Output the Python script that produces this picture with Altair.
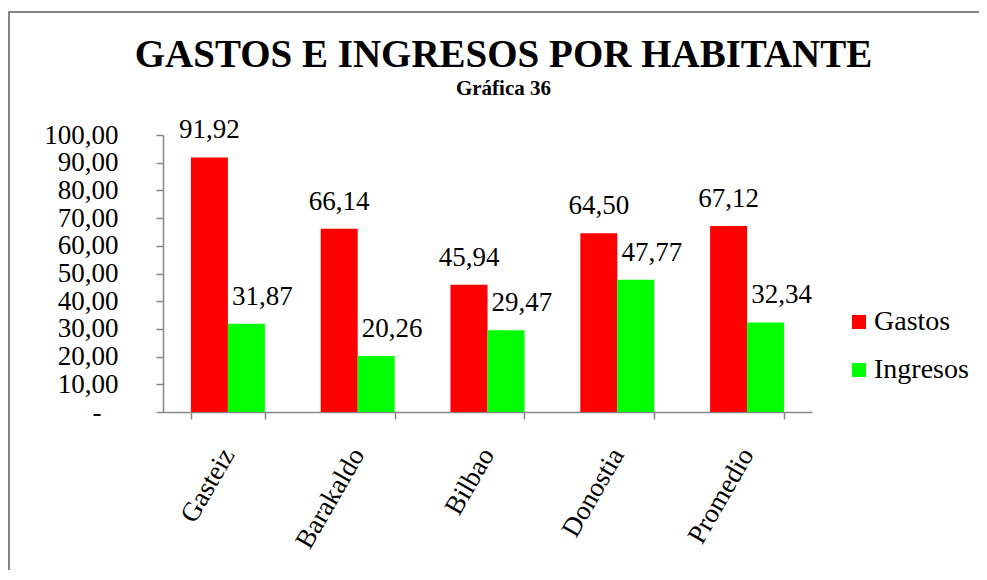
import altair as alt
import pandas as pd

cities = ["Gasteiz", "Barakaldo", "Bilbao", "Donostia", "Promedio"]
series = ["Gastos", "Ingresos"]
gastos = [91.92, 66.14, 45.94, 64.50, 67.12]
ingresos = [31.87, 20.26, 29.47, 47.77, 32.34]
y_ticks = [0, 10, 20, 30, 40, 50, 60, 70, 80, 90, 100]
colors = ["#FF0000", "#00FF00"]
title_text = "GASTOS E INGRESOS POR HABITANTE"
subtitle_text = "Gráfica 36"

rows = []
for c, g, i in zip(cities, gastos, ingresos):
    rows.append({"ciudad": c, "serie": series[0], "valor": g})
    rows.append({"ciudad": c, "serie": series[1], "valor": i})
df = pd.DataFrame(rows)

FONT = "Liberation Serif"
GREY = "#868686"

x_enc = alt.X(
    "ciudad:N", sort=cities, title=None,
    scale=alt.Scale(paddingInner=0.43, paddingOuter=0.215),
    axis=alt.Axis(labelAngle=-60, labelAlign="right", labelBaseline="middle",
                  labelPadding=31, tickBand="extent", tickSize=7,
                  domainColor=GREY, tickColor=GREY, domainWidth=1.5, tickWidth=1.5,
                  labelFont=FONT, labelFontSize=27, labelColor="black", grid=False),
)
xo_enc = alt.XOffset("serie:N", sort=series)
y_enc = alt.Y(
    "valor:Q", title=None,
    scale=alt.Scale(domain=[0, 100], nice=False),
    axis=alt.Axis(values=y_ticks,
                  labelExpr="datum.value == 0 ? '-' : replace(format(datum.value, '.2f'), '.', ',')",
                  labelPadding={"condition": {"test": "datum.value == 0", "value": 55}, "value": 38},
                  tickSize=7, domainColor=GREY, tickColor=GREY,
                  domainWidth=1.5, tickWidth=1.5,
                  labelFont=FONT, labelFontSize=27, labelColor="black", grid=False),
)

bars = alt.Chart(df).mark_bar().encode(
    x=x_enc, xOffset=xo_enc, y=y_enc,
    color=alt.Color("serie:N", sort=series,
                    scale=alt.Scale(domain=series, range=colors),
                    legend=alt.Legend(title=None, orient="none", legendX=682, legendY=173,
                                      symbolType="square", symbolSize=196,
                                      symbolStrokeWidth=0,
                                      labelFont=FONT, labelFontSize=28, labelColor="black",
                                      rowPadding=20, labelOffset=1, padding=0)),
)

lab_expr = "replace(format(datum.valor, '.2f'), '.', ',')"
labels_g = alt.Chart(df).transform_filter(alt.datum.serie == series[0]).transform_calculate(
    lab=lab_expr
).mark_text(baseline="alphabetic", dy=-19, font=FONT, fontSize=27, color="black").encode(
    x=x_enc, xOffset=xo_enc, y=y_enc, text="lab:N"
)
labels_i = alt.Chart(df).transform_filter(alt.datum.serie == series[1]).transform_calculate(
    lab=lab_expr
).mark_text(baseline="alphabetic", dy=-19, dx=16, font=FONT, fontSize=27, color="black").encode(
    x=x_enc, xOffset=xo_enc, y=y_enc, text="lab:N"
)

frame = alt.Chart(alt.Data(values=[{"f": 1}])).mark_rect(
    filled=False, stroke=GREY, strokeWidth=2
).encode(
    x=alt.value(-154), x2=alt.value(840), y=alt.value(-123), y2=alt.value(600)
)

chart = alt.layer(frame, bars, labels_g, labels_i).properties(
    width=649, height=277,
    title=alt.TitleParams(text=title_text, subtitle=subtitle_text,
                          font=FONT, fontSize=39, fontWeight="bold", color="black",
                          subtitleFont=FONT, subtitleFontSize=21, subtitleFontWeight="bold",
                          subtitleColor="black", subtitlePadding=3,
                          anchor="middle", frame="group", dx=16, offset=-88),
    autosize=alt.AutoSizeParams(type="none"),
    padding={"left": 155, "top": 127, "right": 167, "bottom": 158},
).configure_view(stroke=None)

chart.save("out.html", embed_options={"renderer": "svg", "actions": False})
